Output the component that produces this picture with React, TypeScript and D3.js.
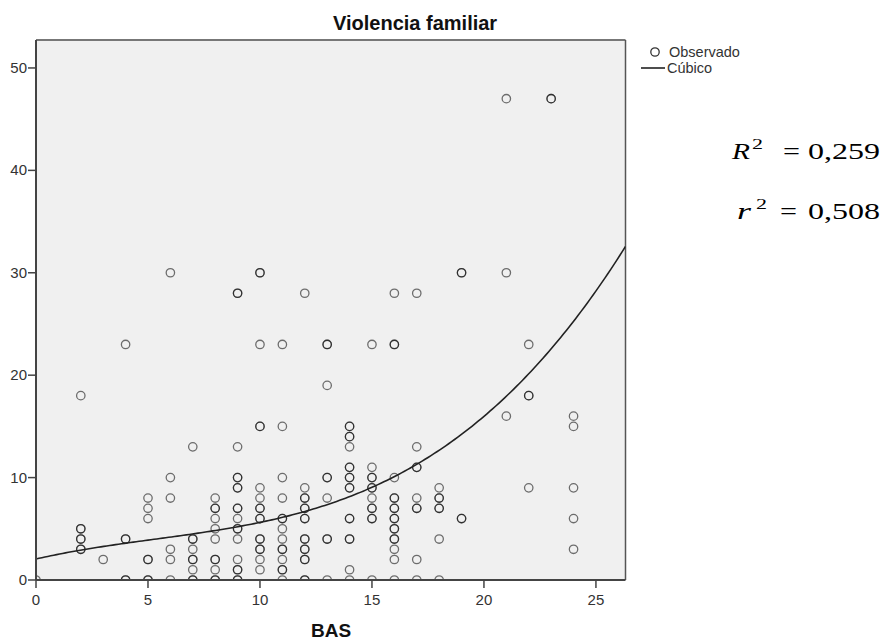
import React from "react";
import * as d3 from "d3";

// Observed points: BAS (x), Violencia familiar (y), number of overlapping cases
const basValues: number[] = [
  0,
  2, 2, 2, 2,
  3,
  4, 4, 4,
  5, 5, 5, 5, 5,
  6, 6, 6, 6, 6, 6,
  7, 7, 7, 7, 7, 7,
  8, 8, 8, 8, 8, 8, 8, 8,
  9, 9, 9, 9, 9, 9, 9, 9, 9, 9, 9,
  10, 10, 10, 10, 10, 10, 10, 10, 10, 10, 10,
  11, 11, 11, 11, 11, 11, 11, 11, 11, 11, 11,
  12, 12, 12, 12, 12, 12, 12, 12, 12,
  13, 13, 13, 13, 13, 13,
  14, 14, 14, 14, 14, 14, 14, 14, 14, 14,
  15, 15, 15, 15, 15, 15, 15, 15,
  16, 16, 16, 16, 16, 16, 16, 16, 16, 16, 16,
  17, 17, 17, 17, 17, 17, 17,
  18, 18, 18, 18, 18,
  19, 19,
  21, 21, 21,
  22, 22, 22,
  23,
  24, 24, 24, 24, 24,
];
const violenciaValues: number[] = [
  0,
  18, 5, 4, 3,
  2,
  23, 4, 0,
  8, 7, 6, 2, 0,
  30, 10, 8, 3, 2, 0,
  13, 4, 3, 2, 1, 0,
  8, 7, 6, 5, 4, 2, 1, 0,
  28, 13, 10, 9, 7, 6, 5, 4, 2, 1, 0,
  30, 23, 15, 9, 8, 7, 6, 4, 3, 2, 1,
  23, 15, 10, 8, 6, 5, 4, 3, 2, 1, 0,
  28, 9, 8, 7, 6, 4, 3, 2, 0,
  23, 19, 10, 8, 4, 0,
  15, 14, 13, 11, 10, 9, 6, 4, 1, 0,
  23, 11, 10, 9, 8, 7, 6, 0,
  28, 23, 10, 8, 7, 6, 5, 4, 3, 2, 0,
  28, 13, 11, 8, 7, 2, 0,
  9, 8, 7, 4, 0,
  30, 6,
  47, 30, 16,
  23, 18, 9,
  47,
  16, 15, 9, 6, 3,
];
const caseCounts: number[] = [
  1,
  1, 2, 2, 2,
  1,
  1, 2, 2,
  1, 1, 1, 2, 2,
  1, 1, 1, 1, 1, 1,
  1, 2, 1, 2, 1, 2,
  1, 2, 1, 1, 1, 2, 1, 2,
  2, 1, 2, 2, 2, 1, 2, 1, 1, 2, 2,
  2, 1, 2, 1, 1, 2, 2, 2, 2, 1, 1,
  1, 1, 1, 1, 2, 1, 1, 2, 1, 2, 1,
  1, 1, 2, 2, 2, 2, 2, 2, 2,
  2, 1, 2, 1, 2, 1,
  2, 2, 1, 2, 2, 2, 2, 2, 1, 1,
  1, 1, 2, 2, 1, 2, 2, 1,
  1, 2, 1, 2, 2, 2, 2, 2, 1, 1, 1,
  1, 1, 2, 1, 2, 1, 1,
  1, 2, 2, 1, 1,
  2, 2,
  1, 1, 1,
  1, 2, 1,
  2,
  1, 1, 1, 1, 1,
];

// Cubic model: b0, b1, b2, b3
const cubicCoefficients: number[] = [2.05, 0.5006, -0.03844, 0.0024116];

const xTicks: number[] = [0, 5, 10, 15, 20, 25];
const yTicks: number[] = [0, 10, 20, 30, 40, 50];
const xDomain: number[] = [0, 26.32];
const yDomain: number[] = [0, 52.73];

const chartTitle = "Violencia familiar";
const xAxisLabel = "BAS";
const legendLabels: string[] = ["Observado", "Cúbico"];
const statLabels: string[] = ["0,259", "0,508"];

export default function App() {
  const W = 884;
  const H = 643;
  const left = 36;
  const right = 625.5;
  const top = 40;
  const bottom = 580;

  const x = d3.scaleLinear().domain(xDomain).range([left, right]);
  const y = d3.scaleLinear().domain(yDomain).range([bottom, top]);

  const cubic = (v: number) =>
    cubicCoefficients[0] +
    cubicCoefficients[1] * v +
    cubicCoefficients[2] * v * v +
    cubicCoefficients[3] * v * v * v;
  const curveXs = d3.range(0, 201).map((i) => xDomain[0] + ((xDomain[1] - xDomain[0]) * i) / 200);
  const lineGen = d3
    .line<number>()
    .x((d) => x(d))
    .y((d) => y(cubic(d)));

  const marks: { cx: number; cy: number; key: string }[] = [];
  basValues.forEach((b, i) => {
    for (let k = 0; k < caseCounts[i]; k++) {
      marks.push({ cx: x(b), cy: y(violenciaValues[i]), key: `${i}-${k}` });
    }
  });

  const sans = "'Liberation Sans', Arial, sans-serif";
  const serif = "'Liberation Serif', 'Times New Roman', serif";

  return (
    <svg
      width={W}
      height={H}
      style={{ position: "absolute", left: 0, top: 0, background: "#fff" }}
    >
      <defs>
        <clipPath id="plotClip">
          <rect x={left} y={top} width={right - left} height={bottom - top} />
        </clipPath>
      </defs>

      <text x={333} y={30} fontFamily={sans} fontWeight="bold" fontSize={20} fill="#111">
        {chartTitle}
      </text>

      <rect x={left} y={top} width={right - left} height={bottom - top} fill="#f0f0f0" />
      <line x1={left} x2={right} y1={top} y2={top} stroke="#777" strokeWidth={2} />
      <line x1={right} x2={right} y1={top} y2={bottom} stroke="#555" strokeWidth={1.5} />

      <g clipPath="url(#plotClip)">
        {marks.map((m) => (
          <circle
            key={m.key}
            cx={m.cx}
            cy={m.cy}
            r={4.2}
            fill="none"
            stroke="#000"
            strokeOpacity={0.55}
            strokeWidth={1.3}
          />
        ))}
        <path d={lineGen(curveXs) || ""} fill="none" stroke="#222" strokeWidth={1.6} />
      </g>

      <line x1={left} x2={left} y1={top} y2={bottom} stroke="#444" strokeWidth={2} />
      <line x1={left} x2={right} y1={bottom} y2={bottom} stroke="#444" strokeWidth={2} />

      {yTicks.map((t) => (
        <g key={`y${t}`}>
          <line x1={left - 8} x2={left} y1={y(t)} y2={y(t)} stroke="#444" strokeWidth={1.5} />
          <text
            x={left - 9}
            y={y(t) + 5}
            textAnchor="end"
            fontFamily={sans}
            fontSize={15}
            fill="#333"
          >
            {t}
          </text>
        </g>
      ))}
      {xTicks.map((t) => (
        <g key={`x${t}`}>
          <line x1={x(t)} x2={x(t)} y1={bottom} y2={bottom + 8} stroke="#444" strokeWidth={1.5} />
          <text
            x={x(t)}
            y={bottom + 25}
            textAnchor="middle"
            fontFamily={sans}
            fontSize={15}
            fill="#333"
          >
            {t}
          </text>
        </g>
      ))}

      <text
        x={331}
        y={637}
        textAnchor="middle"
        fontFamily={sans}
        fontWeight="bold"
        fontSize={19}
        fill="#111"
      >
        {xAxisLabel}
      </text>

      {/* Legend */}
      <circle cx={655} cy={52} r={4.2} fill="none" stroke="#333" strokeWidth={1.3} />
      <text x={669} y={57} fontFamily={sans} fontSize={14.5} fill="#333">
        {legendLabels[0]}
      </text>
      <line x1={641} x2={665} y1={68} y2={68} stroke="#222" strokeWidth={1.6} />
      <text x={667} y={73} fontFamily={sans} fontSize={14.5} fill="#333">
        {legendLabels[1]}
      </text>

      {/* Fit statistics */}
      <g fontFamily={serif} fill="#000">
        <text x={732} y={159} fontSize={24} fontStyle="italic" textLength={18} lengthAdjust="spacingAndGlyphs">
          R
        </text>
        <text x={752} y={149} fontSize={15} textLength={11} lengthAdjust="spacingAndGlyphs">
          2
        </text>
        <text x={783} y={159} fontSize={24} textLength={17} lengthAdjust="spacingAndGlyphs">
          =
        </text>
        <text x={808} y={159} fontSize={24} textLength={72} lengthAdjust="spacingAndGlyphs">
          {statLabels[0]}
        </text>

        <text x={737} y={219} fontSize={24} fontStyle="italic" textLength={14} lengthAdjust="spacingAndGlyphs">
          r
        </text>
        <text x={756} y={209} fontSize={15} textLength={11} lengthAdjust="spacingAndGlyphs">
          2
        </text>
        <text x={780} y={219} fontSize={24} textLength={17} lengthAdjust="spacingAndGlyphs">
          =
        </text>
        <text x={808} y={219} fontSize={24} textLength={72} lengthAdjust="spacingAndGlyphs">
          {statLabels[1]}
        </text>
      </g>
    </svg>
  );
}
